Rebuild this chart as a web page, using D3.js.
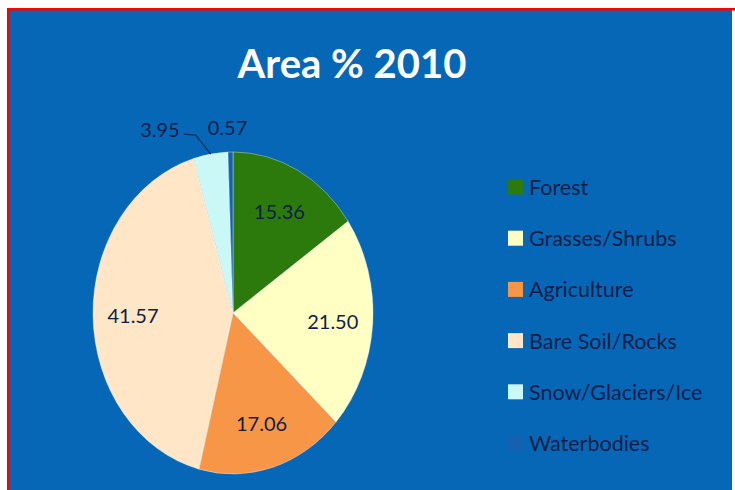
<!DOCTYPE html>
<html>
<head>
<meta charset="utf-8">
<script src="https://cdn.jsdelivr.net/npm/d3@7"></script>
<style>
  html, body { margin: 0; padding: 0; background: #ffffff; }
  svg { display: block; }
</style>
</head>
<body>
<script>
// Land cover shares for 2010 (percent of area)
const categories = ["Forest", "Grasses/Shrubs", "Agriculture", "Bare Soil/Rocks", "Snow/Glaciers/Ice", "Waterbodies"];
const values = [15.36, 21.50, 17.06, 41.57, 3.95, 0.57];
const valueLabels = ["15.36", "21.50", "17.06", "41.57", "3.95", "0.57"];
const colors = ["#2b7a0b", "#ffffc4", "#f79646", "#fee6c6", "#c9f8f6", "#1361b0"];
const title = "Area % 2010";

const W = 735, H = 490;
const svg = d3.select("body").append("svg").attr("width", W).attr("height", H);

// frame: red rule along top and left, blue panel
svg.append("rect").attr("x", 9).attr("y", 10).attr("width", 723).attr("height", H - 10).attr("fill", "#0767b7");
svg.append("rect").attr("x", 7).attr("y", 8).attr("width", W - 7).attr("height", 2.5).attr("fill", "#ff0000");
svg.append("rect").attr("x", 7).attr("y", 8).attr("width", 2.5).attr("height", H - 8).attr("fill", "#ff0000");

svg.append("text")
  .attr("x", 352).attr("y", 78)
  .attr("text-anchor", "middle")
  .attr("font-family", "Lato, 'Open Sans', sans-serif")
  .attr("font-weight", "bold")
  .attr("font-size", 40)
  .attr("fill", "#ffffff")
  .text(title);

// pie, drawn as a vertically stretched ellipse
const cx = 233, cy = 313, R = 140, sy = 161 / 140;
const data = categories.map((c, i) => ({ name: c, value: values[i], label: valueLabels[i], color: colors[i] }));
const pie = d3.pie().sort(null).value(d => d.value);
const arcs = pie(data);
const arc = d3.arc().innerRadius(0).outerRadius(R);
const labelArc = d3.arc().innerRadius(100).outerRadius(100);
const outerArc = d3.arc().innerRadius(R).outerRadius(R);

const g = svg.append("g").attr("transform", `translate(${cx},${cy}) scale(1,${sy})`);
g.selectAll("path.slice").data(arcs).enter().append("path")
  .attr("class", "slice")
  .attr("d", arc)
  .attr("fill", d => d.data.color)
  .attr("stroke", "rgba(255,255,255,0.35)")
  .attr("stroke-width", 1)
  .attr("vector-effect", "non-scaling-stroke");

const labelFont = "Lato, 'Open Sans', sans-serif";
const ink = "#0e1e48";
const place = p => [cx + p[0], cy + p[1] * sy];

// inside labels for the four large slices
arcs.slice(0, 4).forEach(d => {
  const [x, y] = place(labelArc.centroid(d));
  svg.append("text")
    .attr("x", x).attr("y", y)
    .attr("text-anchor", "middle").attr("dominant-baseline", "central")
    .attr("font-family", labelFont).attr("font-size", 20)
    .attr("fill", ink)
    .text(d.data.label);
});

// snow slice: label with leader line
{
  const d = arcs[4];
  const [px, py] = place(outerArc.centroid(d));
  const elbow = [px - 15, py - 19];
  const end = [elbow[0] - 12, elbow[1] - 1];
  svg.append("polyline")
    .attr("points", [[px, py], elbow, end].map(p => p.join(",")).join(" "))
    .attr("fill", "none").attr("stroke", "#0b2a5a").attr("stroke-width", 1.2);
  svg.append("text")
    .attr("x", end[0] - 4).attr("y", end[1] - 5)
    .attr("text-anchor", "end").attr("dominant-baseline", "central")
    .attr("font-family", labelFont).attr("font-size", 20)
    .attr("fill", ink)
    .text(d.data.label);
}
// waterbodies slice: label just outside the rim
{
  const d = arcs[5];
  const [px, py] = place(outerArc.centroid(d));
  svg.append("text")
    .attr("x", px - 3).attr("y", py - 25)
    .attr("text-anchor", "middle").attr("dominant-baseline", "central")
    .attr("font-family", labelFont).attr("font-size", 20)
    .attr("fill", ink)
    .text(d.data.label);
}

// legend
const legendY = d3.scalePoint().domain(categories).range([187, 443]);
const lg = svg.append("g");
categories.forEach((c, i) => {
  const y = legendY(c);
  lg.append("rect")
    .attr("x", 508).attr("y", y - 7.5).attr("width", 15).attr("height", 15)
    .attr("fill", colors[i]);
  lg.append("text")
    .attr("x", 529).attr("y", y)
    .attr("dominant-baseline", "central")
    .attr("font-family", labelFont).attr("font-size", 21.5)
    .attr("fill", ink)
    .text(c);
});
</script>
</body>
</html>
